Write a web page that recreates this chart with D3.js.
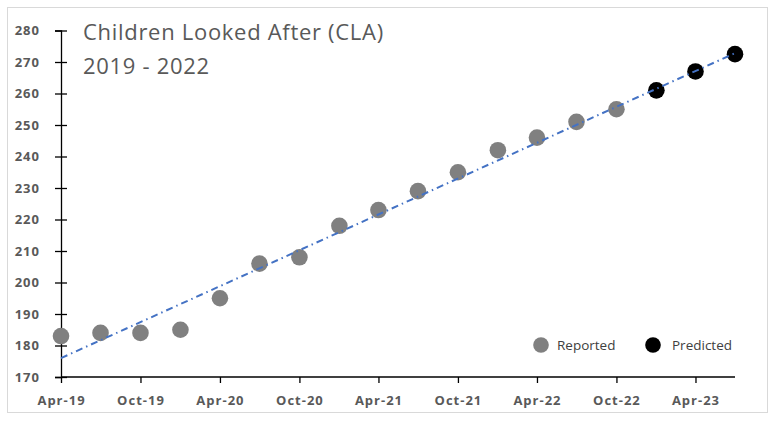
<!DOCTYPE html>
<html>
<head>
<meta charset="utf-8">
<script src="https://cdn.jsdelivr.net/npm/d3@7"></script>
<style>
  body { margin: 0; background: #fff; }
  svg { display: block; }
</style>
</head>
<body>
<svg id="chart" width="776" height="423"></svg>
<script>
// quarterly counts, Apr-19 .. Oct-22 reported, Jan-23 .. Jul-23 predicted
const reportedDates = ['2019-04', '2019-07', '2019-10', '2020-01', '2020-04', '2020-07', '2020-10', '2021-01',
                       '2021-04', '2021-07', '2021-10', '2022-01', '2022-04', '2022-07', '2022-10'];
const reportedValues = [183, 184, 184, 185, 195, 206, 208, 218, 223, 229, 235, 242, 246, 251, 255];
const predictedDates = ['2023-01', '2023-04', '2023-07'];
const predictedValues = [261, 267, 272.5];
const trendDates = ['2019-04', '2023-07'];
const trendValues = [176, 272.8];
const xTickDates = ['2019-04', '2019-10', '2020-04', '2020-10', '2021-04', '2021-10', '2022-04', '2022-10', '2023-04'];
const yTicks = [170, 180, 190, 200, 210, 220, 230, 240, 250, 260, 270, 280];
const titleLines = ['Children Looked After (CLA)', '2019 - 2022'];
const legendItems = [{name: 'Reported', color: '#808080'}, {name: 'Predicted', color: '#000000'}];

const parse = d3.timeParse('%Y-%m');
const fmt = d3.timeFormat('%b-%y');

const svg = d3.select('#chart');
const width = 776, height = 423;
const margin = {left: 61, right: 41, top: 30.5, bottom: 46};

// outer frame
svg.append('rect')
   .attr('x', 7.5).attr('y', 7.5)
   .attr('width', 760).attr('height', 405)
   .attr('fill', '#fff')
   .attr('stroke', '#d9d9d9')
   .attr('stroke-width', 1);

let x = d3.scaleTime()
          .domain([parse('2019-04'), parse('2023-07')])
          .range([margin.left, width - margin.right]);
let y = d3.scaleLinear()
          .domain([170, 280])
          .range([height - margin.bottom, margin.top]);

// y axis, ticks crossing the line
let yAxis = svg.append('g')
   .attr('transform', 'translate(' + margin.left + ',0)')
   .call(d3.axisLeft(y).tickValues(yTicks).tickSize(6).tickPadding(15));
yAxis.select('.domain').attr('stroke', '#000').attr('stroke-width', 1.3);
yAxis.selectAll('.tick line').attr('stroke', '#000').attr('stroke-width', 1.3).attr('x2', 6).attr('x1', -6);
yAxis.selectAll('.tick text')
     .attr('fill', '#595959')
     .attr('font-family', 'Open Sans, sans-serif')
     .attr('font-weight', 'bold')
     .attr('font-size', '13px')
     .attr('letter-spacing', '1px');

// x axis
let xAxis = svg.append('g')
   .attr('transform', 'translate(0,' + y(170) + ')')
   .call(d3.axisBottom(x).tickValues(xTickDates.map(parse)).tickFormat(fmt).tickSize(6).tickPadding(13));
xAxis.select('.domain').attr('stroke', '#000').attr('stroke-width', 1.3).attr('d', 'M' + margin.left + ',0H' + (width - margin.right));
xAxis.selectAll('.tick line').attr('stroke', '#000').attr('stroke-width', 1.3);
xAxis.selectAll('.tick text')
     .attr('fill', '#595959')
     .attr('font-family', 'Open Sans, sans-serif')
     .attr('font-weight', 'bold')
     .attr('font-size', '13px')
     .attr('letter-spacing', '1px');

// points
const reported = reportedDates.map((d, i) => ({date: parse(d), value: reportedValues[i]}));
const predicted = predictedDates.map((d, i) => ({date: parse(d), value: predictedValues[i]}));

svg.selectAll('.reported')
   .data(reported)
   .enter()
   .append('circle')
   .attr('class', 'reported')
   .attr('r', 8.3)
   .attr('cx', d => x(d.date))
   .attr('cy', d => y(d.value))
   .attr('fill', '#808080');

svg.selectAll('.predicted')
   .data(predicted)
   .enter()
   .append('circle')
   .attr('class', 'predicted')
   .attr('r', 8.3)
   .attr('cx', d => x(d.date))
   .attr('cy', d => y(d.value))
   .attr('fill', '#000');

// trend line
const trend = trendDates.map((d, i) => ({date: parse(d), value: trendValues[i]}));
let line = d3.line().x(d => x(d.date)).y(d => y(d.value));
svg.append('path')
   .attr('d', line(trend))
   .attr('fill', 'none')
   .attr('stroke', '#4472c4')
   .attr('stroke-width', 2)
   .attr('stroke-dasharray', '7,4,1.5,4');

// title
svg.selectAll('.title')
   .data(titleLines)
   .enter()
   .append('text')
   .attr('class', 'title')
   .attr('x', 83)
   .attr('y', (d, i) => 39.5 + i * 34.5)
   .attr('fill', '#595959')
   .attr('font-family', 'Open Sans, sans-serif')
   .attr('font-size', '22px')
   .attr('letter-spacing', '0.7px')
   .text(d => d);

// legend
let legend = svg.selectAll('.legend')
   .data(legendItems)
   .enter()
   .append('g')
   .attr('class', 'legend')
   .attr('transform', (d, i) => 'translate(' + (541 + i * 112) + ',345)');
legend.append('circle')
      .attr('r', 7.8)
      .attr('fill', d => d.color);
legend.append('text')
      .attr('x', d => d.name === 'Predicted' ? 19 : 16)
      .attr('y', 5)
      .attr('fill', '#404040')
      .attr('font-family', 'Open Sans, sans-serif')
      .attr('font-size', '13.5px')
      .text(d => d.name);
</script>
</body>
</html>
